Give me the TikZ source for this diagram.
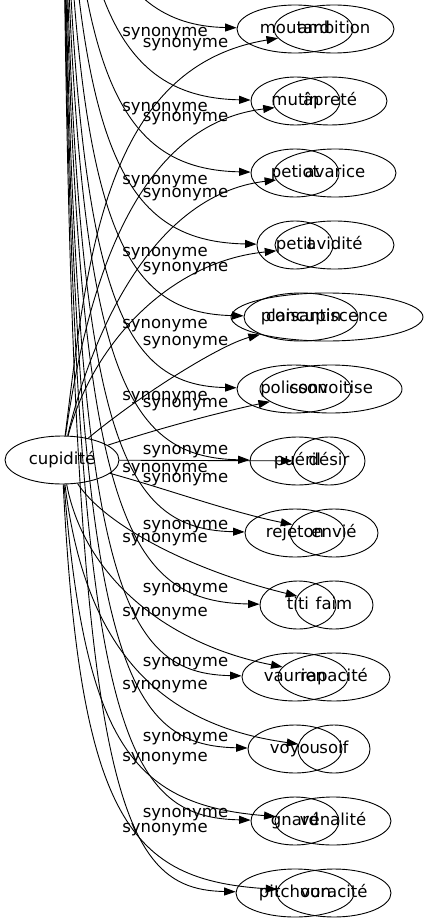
\documentclass[tikz,border=0pt]{standalone}
\usepackage{fontspec}
\setmainfont{DejaVu Sans}
\usetikzlibrary{arrows.meta,shapes.geometric}

\begin{document}
\begin{tikzpicture}[x=1pt, y=-1pt, >={Triangle[length=11.5pt,width=8pt]}, line width=0.9pt,
    word/.style={ellipse, draw, inner sep=0pt, minimum height=48pt,
      font=\fontsize{16.5}{19}\selectfont, text height=12pt, text depth=3.5pt},
    syn/.style={inner sep=0pt, font=\fontsize{16.5}{19}\selectfont,
      text height=12pt, text depth=3.5pt}]
    \useasboundingbox (0,0) rectangle (429,923);
    \clip (0,0) rectangle (429,923);

    % Nodes
    \node[word, minimum width=114pt](cupidite) at (62,460) {cupidité};
    \coordinate (hub) at (62,-400);

    \node[word, minimum width=116pt](moutard) at (295,29) {moutard};
    \node[word, minimum width=89pt](mutin) at (295.5,101) {mutin};
    \node[word, minimum width=88pt](petiot) at (295,173) {petiot};
    \node[word, minimum width=76pt](petit) at (295,245) {petit};
    \node[word, minimum width=114pt](plaisantin) at (301,317) {plaisantin};
    \node[word, minimum width=114pt](polisson) at (294,389) {polisson};
    \node[word, minimum width=95pt](pueril) at (297.5,461) {puéril};
    \node[word, minimum width=100pt](rejeton) at (295,533) {rejeton};
    \node[word, minimum width=76pt](titi) at (298,605) {titi};
    \node[word, minimum width=106pt](vaurien) at (295,677) {vaurien};
    \node[word, minimum width=94pt](voyou) at (295,749) {voyou};
    \node[word, minimum width=88pt](gnard) at (295,821) {gnard};
    \node[word, minimum width=118pt](pitchoun) at (295,893) {pitchoun};

    \node[word, minimum width=120pt](ambition) at (334,29) {ambition};
    \node[word, minimum width=114pt](aprete) at (330,101) {âpreté};
    \node[word, minimum width=122pt](avarice) at (335,173) {avarice};
    \node[word, minimum width=119pt](avidite) at (334.5,245) {avidité};
    \node[word, minimum width=192pt](concupiscence) at (327,317) {concupiscence};
    \node[word, minimum width=142pt](convoitise) at (331,389) {convoitise};
    \node[word, minimum width=72pt](desir) at (329,461) {désir};
    \node[word, minimum width=88pt](envie) at (334,533) {envié};
    \node[word, minimum width=78pt](faim) at (334,605) {faim};
    \node[word, minimum width=112pt](rapacite) at (334,677) {rapacité};
    \node[word, minimum width=72pt](soif) at (334,749) {soif};
    \node[word, minimum width=116pt](venalite) at (333,821) {vénalité};
    \node[word, minimum width=114pt](voracite) at (334,893) {voracité};

    % Labels
    \node[syn](lmutin) at (165,32) {synonyme};
    \node[syn](lpetiot) at (165,107) {synonyme};
    \node[syn](lpetit) at (165,180) {synonyme};
    \node[syn](lplaisantin) at (165,252) {synonyme};
    \node[syn](lpolisson) at (165,324) {synonyme};
    \node[syn](lpueril) at (165,396) {synonyme};
    \node[syn](lrejeton) at (165,468) {synonyme};
    \node[syn](ltiti) at (165,538) {synonyme};
    \node[syn](lvaurien) at (165,612) {synonyme};
    \node[syn](lvoyou) at (165,685) {synonyme};
    \node[syn](lgnard) at (165,757) {synonyme};
    \node[syn](lpitchoun) at (165,828) {synonyme};

    \node[syn](lambition) at (185.5,43) {synonyme};
    \node[syn](laprete) at (185.5,117) {synonyme};
    \node[syn](lavarice) at (185.5,193) {synonyme};
    \node[syn](lavidite) at (185.5,267) {synonyme};
    \node[syn](lconcupiscence) at (185.5,341) {synonyme};
    \node[syn](lconvoitise) at (185.5,403) {synonyme};
    \node[syn](ldesir) at (185.5,450) {synonyme};
    \node[syn](lenvie) at (185.5,478) {synonyme};
    \node[syn](lfaim) at (185.5,525) {synonyme};
    \node[syn](lrapacite) at (185.5,588) {synonyme};
    \node[syn](lsoif) at (185.5,662) {synonyme};
    \node[syn](lvenalite) at (185.5,737) {synonyme};
    \node[syn](lvoracite) at (185.5,813) {synonyme};

    % Arrows from above
    \draw[->] (hub) .. controls (64,-91) and (105,25) .. (moutard);
    \draw[->] (hub) .. controls (64,-19) and (105,97) .. (mutin);
    \draw[->] (hub) .. controls (64,53) and (105,169) .. (petiot);
    \draw[->] (hub) .. controls (64,125) and (105,241) .. (petit);
    \draw[->] (hub) .. controls (64,197) and (105,313) .. (plaisantin);
    \draw[->] (hub) .. controls (64,269) and (105,385) .. (polisson);
    \draw[->] (hub) .. controls (64,341) and (105,457) .. (pueril);
    \draw[->] (hub) .. controls (64,413) and (105,529) .. (rejeton);
    \draw[->] (hub) .. controls (64,485) and (105,601) .. (titi);
    \draw[->] (hub) .. controls (64,557) and (105,673) .. (vaurien);
    \draw[->] (hub) .. controls (64,629) and (105,745) .. (voyou);
    \draw[->] (hub) .. controls (64,701) and (105,817) .. (gnard);
    \draw[->] (hub) .. controls (64,773) and (105,889) .. (pitchoun);

    % Arrows from cupidite
    \draw[->] (cupidite) .. controls (87,263) and (103,67) .. (ambition);
    \draw[->] (cupidite) .. controls (85,300) and (130,125) .. (aprete);
    \draw[->] (cupidite) .. controls (90,340) and (150,195) .. (avarice);
    \draw[->] (cupidite) .. controls (90,350) and (165,262) .. (avidite);
    \draw[->] (cupidite) .. controls (140,395) and (220,345) .. (concupiscence);
    \draw[->] (cupidite) .. controls (170,425) and (230,410) .. (convoitise);
    \draw[->] (cupidite) -- (desir);
    \draw[->] (cupidite) .. controls (170,490) and (230,512) .. (envie);
    \draw[->] (cupidite) .. controls (105,525) and (190,570) .. (faim);
    \draw[->] (cupidite) .. controls (85,580) and (170,645) .. (rapacite);
    \draw[->] (cupidite) .. controls (85,650) and (160,725) .. (soif);
    \draw[->] (cupidite) .. controls (85,740) and (130,805) .. (venalite);
    \draw[->] (cupidite) .. controls (80,820) and (130,880) .. (voracite);

\end{tikzpicture}
\end{document}
